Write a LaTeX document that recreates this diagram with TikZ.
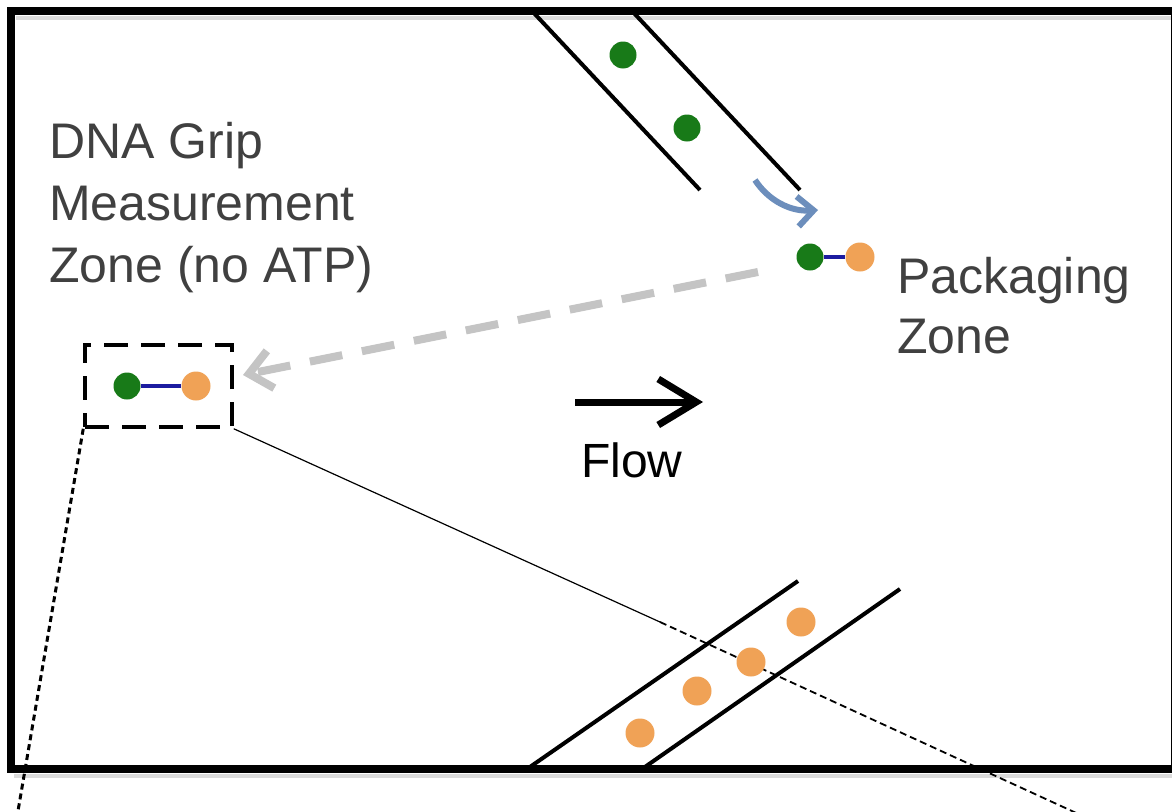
\documentclass[tikz,border=0pt]{standalone}
\usepackage{fontspec}
\newfontfamily\lab{Liberation Sans}
\usetikzlibrary{arrows.meta}
\definecolor{dgreen}{RGB}{24,122,24}
\definecolor{dorange}{RGB}{240,162,86}
\definecolor{dblue}{RGB}{28,28,160}
\definecolor{steel}{RGB}{108,142,188}
\definecolor{lgray}{RGB}{196,196,196}
\definecolor{txtgray}{RGB}{64,64,64}
\tikzset{
  gdot/.style={circle,fill=dgreen,draw=none,minimum size=27pt,inner sep=0pt},
  odot/.style={circle,fill=dorange,draw=none,minimum size=29pt,inner sep=0pt},
  linkbar/.style={draw=dblue,line width=4pt},
  frameline/.style={line width=8pt,black},
  shadowline/.style={line width=4pt,black!14},
  chanline/.style={line width=4pt,black},
  zonebox/.style={draw=black,line width=3.5pt,dash pattern=on 24pt off 13pt,minimum width=147pt,minimum height=82pt,inner sep=0pt},
  grayarrow/.style={draw=lgray,line width=8pt,dash pattern=on 33pt off 20pt,-{Straight Barb[length=22pt,width=38pt]}},
  bluearrow/.style={draw=steel,line width=6pt,-{Straight Barb[length=16pt,width=30pt]}},
  flowarrow/.style={draw=black,line width=7pt,-{Straight Barb[length=38pt,width=46pt]}},
  zoomdot/.style={draw=black,line width=3pt,dash pattern=on 6pt off 4pt},
  zoomsolid/.style={draw=black,line width=1.2pt},
  zoomdash/.style={draw=black,line width=1.8pt,dash pattern=on 7pt off 4pt},
  zonetext/.style={font=\lab\fontsize{50}{60}\selectfont,text=txtgray,inner sep=0pt,anchor=base west},
  flowtext/.style={font=\lab\fontsize{48}{58}\selectfont,text=black,inner sep=0pt,anchor=base west}
}
\begin{document}
\begin{tikzpicture}[x=1pt,y=-1pt]
\useasboundingbox (0,0) rectangle (1172,811);
\fill[white] (0,0) rectangle (1172,811);
% frame shadows
\draw[shadowline] (16,18) -- (1172,18);
\draw[shadowline] (14,776) -- (1172,776);
% frame
\draw[frameline] (11,11) rectangle (1175,769);
% top channel
\coordinate (ta1) at (532,11);
\coordinate (ta2) at (700,190);
\coordinate (tb1) at (632,11);
\coordinate (tb2) at (800,190);
\draw[chanline] (ta1) -- (ta2);
\draw[chanline] (tb1) -- (tb2);
\node[gdot] (g1) at (623,55) {};
\node[gdot] (g2) at (687,128) {};
% bottom channel
\coordinate (ba1) at (527,769);
\coordinate (ba2) at (798,581);
\coordinate (bb1) at (642,769);
\coordinate (bb2) at (900,589);
\draw[chanline] (ba1) -- (ba2);
\draw[chanline] (bb1) -- (bb2);
% zoom lines from box
\node[zonebox] (box) at (158.5,386) {};
\coordinate (zl) at (18,811);
\coordinate (zm) at (660,622);
\coordinate (zr) at (1085,817);
\draw[zoomdot] (box.south west) -- (zl);
\draw[zoomsolid] (box.south east) -- (zm);
\draw[zoomdash] (zm) -- (zr);
% orange dots in bottom channel
\node[odot] (o1) at (640,733) {};
\node[odot] (o2) at (697,691) {};
\node[odot] (o3) at (751,662) {};
\node[odot] (o4) at (801,622) {};
% measured molecule in box
\node[gdot] (bg) at (127,386) {};
\node[odot] (bo) at (196,386) {};
\draw[linkbar] (bg) -- (bo);
% packaging molecule
\node[gdot] (pg) at (810,257) {};
\node[odot] (po) at (860,257) {};
\draw[linkbar] (pg) -- (po);
% blue curved arrow
\coordinate (bs) at (755,180);
\coordinate (be) at (818,210);
\draw[bluearrow] (bs) .. controls (768,200) and (790,212) .. (be);
% gray dashed arrow
\coordinate (gs) at (758,272);
\coordinate (ge) at (243,375);
\draw[grayarrow] (gs) -- (ge);
% flow arrow
\coordinate (fs) at (575,402);
\coordinate (fe) at (703,402);
\draw[flowarrow] (fs) -- (fe);
\node[flowtext] (flow) at (581,477) {Flow};
% texts
\node[zonetext] (d1) at (49,158) {DNA Grip};
\node[zonetext] (d2) at (49,220) {Measurement};
\node[zonetext] (d3) at (49,282) {Zone (no ATP)};
\node[zonetext] (p1) at (897,293) {Packaging};
\node[zonetext] (p2) at (897,353) {Zone};
\end{tikzpicture}
\end{document}
